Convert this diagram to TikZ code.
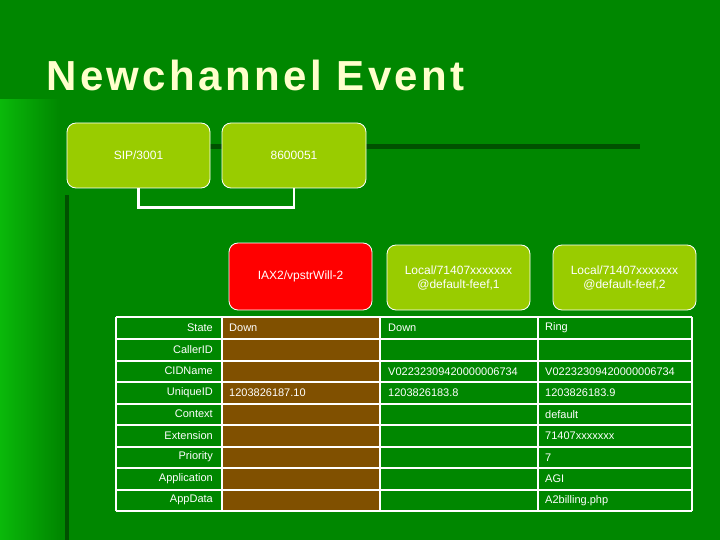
\documentclass[tikz,border=0pt]{standalone}
\usepackage{fontspec}
\setmainfont{Liberation Sans}
\begin{document}
\begin{tikzpicture}[x=1pt,y=-1pt,
  gbox/.style={draw=white,line width=0.8pt,rounded corners=9pt,text=white,font=\fontsize{12}{14}\selectfont,align=center,inner sep=0pt},
  gboxc/.style={gbox,fill={rgb,255:red,153;green,204;blue,0}},
  cell/.style={font=\fontsize{11}{13}\selectfont,text=white,inner sep=0pt}]
\definecolor{bg}{RGB}{0,135,0}
\definecolor{bgl}{RGB}{10,185,10}
\definecolor{brn}{RGB}{128,80,0}
\definecolor{ttl}{RGB}{255,255,204}
\useasboundingbox (0,0) rectangle (720,540);
\fill[bg] (0,0) rectangle (720,540);
\shade[left color=bgl,right color=bg] (0,100) rectangle (60,540);
\fill[black!40!bg] (210,144) rectangle (640,149);
\fill[black!40!bg] (65,195) rectangle (69,540);
\node[font=\bfseries\fontsize{42}{48}\selectfont\addfontfeature{LetterSpace=8},text=ttl,anchor=west] (title) at (43,75) {Newchannel Event};
\node[gboxc,minimum width=143,minimum height=65] (sip) at (138.5,155.5) {SIP/3001};
\node[gboxc,minimum width=144,minimum height=65] (num) at (294,155.5) {8600051};
\draw[white,line width=2.5pt] (sip.south) -- ++(0,19) -| (num.south);
\node[gbox,fill=red,minimum width=143,minimum height=67] (iax) at (300.5,276.5) {IAX2/vpstrWill-2};
\node[gboxc,minimum width=143,minimum height=65] (l1) at (458.5,277.5) {Local/71407xxxxxxx\\@default-feef,1};
\node[gboxc,minimum width=143,minimum height=65] (l2) at (624.5,277.5) {Local/71407xxxxxxx\\@default-feef,2};
\fill[brn] (222,317) rectangle (380,511);
\foreach \y in {317,339,361,382,404,425,447,468,490,511} \draw[white,line width=1.5pt] (116,\y) -- (692,\y);
\foreach \x in {116,222,380,538,692} \draw[white,line width=1.5pt] (\x,317) -- (\x,511);
\foreach \lab [count=\i] in {State,CallerID,CIDName,UniqueID,Context,Extension,Priority,Application,AppData}
  \node[cell,anchor=east] (r\i) at (213,317+21.55*\i-10.8) {\lab};
\node[cell,anchor=west] (c11) at (229,328) {Down};
\node[cell,anchor=west] (c21) at (388,328) {Down};
\node[cell,anchor=west] (c31) at (545,328) {Ring};
\node[cell,anchor=west] (c23) at (388,371.5) {V02232309420000006734};
\node[cell,anchor=west] (c33) at (545,371.5) {V02232309420000006734};
\node[cell,anchor=west] (c14) at (229,393) {1203826187.10};
\node[cell,anchor=west] (c24) at (388,393) {1203826183.8};
\node[cell,anchor=west] (c34) at (545,393) {1203826183.9};
\node[cell,anchor=west] (c35) at (545,414.5) {default};
\node[cell,anchor=west] (c36) at (545,436) {71407xxxxxxx};
\node[cell,anchor=west] (c37) at (545,457.5) {7};
\node[cell,anchor=west] (c38) at (545,479) {AGI};
\node[cell,anchor=west] (c39) at (545,500.5) {A2billing.php};
\end{tikzpicture}
\end{document}
